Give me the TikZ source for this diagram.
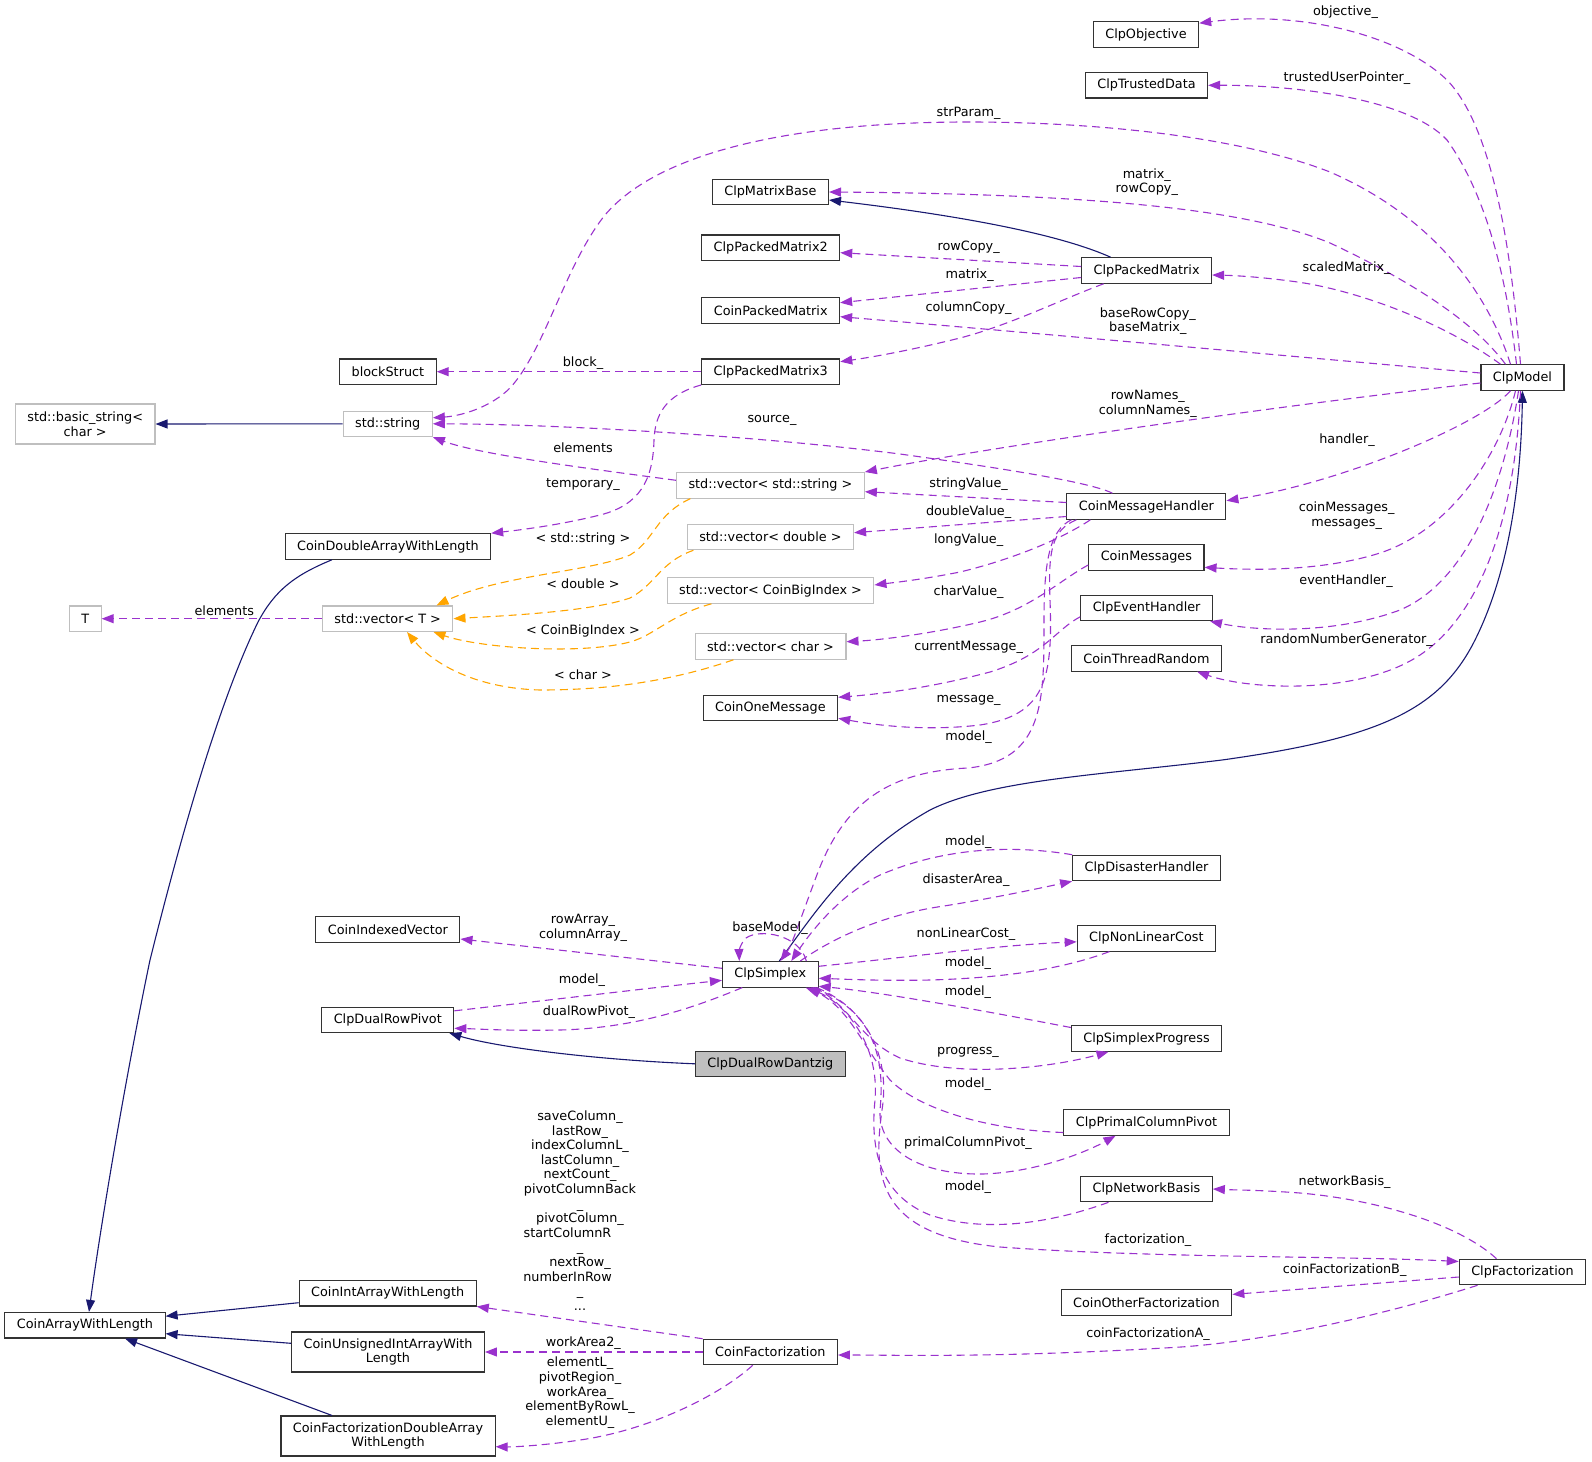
\documentclass[tikz,border=0pt]{standalone}
\usepackage{fontspec}
\setmainfont{DejaVu Sans}
\usetikzlibrary{arrows.meta, calc}
\definecolor{dorchid}{RGB}{154, 50,205}
\definecolor{mnavy}  {RGB}{ 25, 25,112}
\definecolor{vorng}  {RGB}{255,165,  0}
\definecolor{bgrey}  {RGB}{191,191,191}
\tikzset{
  % documented class box
  CB/.style={rectangle,draw=black!80,fill=white,line width=1.1pt,
             font=\fontsize{12.8}{14.6}\selectfont,align=center,
             inner xsep=12pt,inner ysep=2pt,minimum height=25.5pt},
  % undocumented class box
  XB/.style={CB,draw=bgrey},
  % the class of this graph
  HB/.style={CB,fill=bgrey},
  % edge label
  Lbl/.style={font=\fontsize{12.8}{14.6}\selectfont,align=center,inner sep=0pt},
  % arrows
  UArr/.style={-{Triangle[length=12pt,width=9pt]},line width=1.1pt,
               color=dorchid,dash pattern=on 8pt off 5pt},
  IArr/.style={-{Triangle[length=12pt,width=9pt]},line width=1.1pt,color=mnavy},
  TArr/.style={-{Triangle[length=12pt,width=9pt]},line width=1.1pt,
               color=vorng,dash pattern=on 8pt off 5pt},
}
\begin{document}
\begin{tikzpicture}[x=1pt,y=-1pt]
  \useasboundingbox (0,0) rectangle (1592,1461);
  % --- class nodes
  \node[CB] (obj)    at (1146,34.5)    {ClpObjective};
  \node[CB] (trust)  at (1146.5,85.3)  {ClpTrustedData};
  \node[CB] (mbase)  at (770.4,192)    {ClpMatrixBase};
  \node[CB] (pm2)    at (770.7,247.7)  {ClpPackedMatrix2};
  \node[CB] (cpm)    at (770.7,310.3)  {CoinPackedMatrix};
  \node[CB] (pm3)    at (770.7,371.7)  {ClpPackedMatrix3};
  \node[CB] (pm)     at (1146.6,270.5) {ClpPackedMatrix};
  \node[CB] (model)  at (1522.5,377.5) {ClpModel};
  \node[CB] (block)  at (387.9,371.7)  {blockStruct};
  \node[XB] (str)    at (387.7,423.8)  {std::string};
  \node[XB,minimum height=40pt] (bstr) at (85.2,424) {std::basic\_string<\\char >};
  \node[CB] (cdawl)  at (387.9,546.5)  {CoinDoubleArrayWithLength};
  \node[XB] (T)      at (85.2,618.7)   {T};
  \node[XB] (vecT)   at (387.7,618.7)  {std::vector< T >};
  \node[CB] (civ)    at (387.9,929.3)  {CoinIndexedVector};
  \node[XB] (vstr)   at (770.4,485.3)  {std::vector< std::string >};
  \node[XB] (vdbl)   at (770.4,537)    {std::vector< double >};
  \node[XB] (vbig)   at (770.5,590.5)  {std::vector< CoinBigIndex >};
  \node[XB] (vchr)   at (770.5,646.5)  {std::vector< char >};
  \node[CB] (onemsg) at (770.4,707.8)  {CoinOneMessage};
  \node[CB] (cmh)    at (1146.4,506.5) {CoinMessageHandler};
  \node[CB] (cmsg)   at (1146.4,557.3) {CoinMessages};
  \node[CB] (evt)    at (1146.6,607.8) {ClpEventHandler};
  \node[CB] (rnd)    at (1146.4,658.3) {CoinThreadRandom};
  \node[CB] (dis)    at (1146.6,868)   {ClpDisasterHandler};
  \node[CB] (nlc)    at (1146.4,938.3) {ClpNonLinearCost};
  \node[CB] (simplex) at (770.3,974.3) {ClpSimplex};
  \node[CB] (drp)    at (387.8,1019.8) {ClpDualRowPivot};
  \node[HB] (dantzig) at (770.3,1063.8) {ClpDualRowDantzig};
  \node[CB] (prog)   at (1146.5,1038.5) {ClpSimplexProgress};
  \node[CB] (pcp)    at (1146.5,1122.5) {ClpPrimalColumnPivot};
  \node[CB] (nb)     at (1146.5,1189)  {ClpNetworkBasis};
  \node[CB] (fact)   at (1522.5,1272)  {ClpFactorization};
  \node[CB] (cof)    at (1146.5,1302.4) {CoinOtherFactorization};
  \node[CB] (cf)     at (770.3,1352)   {CoinFactorization};
  \node[CB] (cawl)   at (85,1325.2)    {CoinArrayWithLength};
  \node[CB] (ciawl)  at (387.7,1293.2) {CoinIntArrayWithLength};
  \node[CB,minimum height=40pt] (cuiawl) at (388,1352) {CoinUnsignedIntArrayWith\\Length};
  \node[CB,minimum height=40pt] (cfdawl) at (388,1436) {CoinFactorizationDoubleArray\\WithLength};

  % --- inheritance
  \draw[IArr] (str.west) -- (bstr.east);
  \draw[IArr] ([xshift=-36pt]pm.north) .. controls (1050,230) and (930,212) .. ([yshift=-8pt]mbase.east);
  \draw[IArr] ([xshift=9pt]simplex.north) .. controls (810,920) and (850,855) .. (930,810)
              .. controls (990,780) and (1100,775) .. (1222,760)
              .. controls (1380,738) and (1440,710) .. (1475,640)
              .. controls (1510,570) and (1521,480) .. (model.south);
  \draw[IArr] (dantzig.west) .. controls (600,1060) and (500,1048) .. ([xshift=-5pt]drp.south east);
  \draw[IArr] ([xshift=-56pt]cdawl.south) .. controls (295,575) and (275,590) .. (258,622)
              .. controls (215,710) and (175,860) .. (150,960)
              .. controls (125,1080) and (100,1230) .. ([xshift=4pt]cawl.north);
  \draw[IArr] ([yshift=-9.5pt]ciawl.west) -- ([yshift=9pt]cawl.east);
  \draw[IArr] ([yshift=8.7pt]cuiawl.west) -- ([yshift=-8.5pt]cawl.east);
  \draw[IArr] ([xshift=-56pt]cfdawl.north) -- ([xshift=40pt]cawl.south);

  % --- ClpModel members
  \draw[UArr] ([xshift=-2pt]model.north) .. controls (1512,260) and (1495,130) .. (1447,80)
              .. controls (1400,35) and (1300,10) .. (obj.12);
  \node[Lbl] (lobj) at (1345.5,12) {objective\_};
  \draw[UArr] ([xshift=-6pt]model.north) .. controls (1508,290) and (1490,200) .. (1447,140)
              .. controls (1410,100) and (1300,85) .. (trust.east);
  \node[Lbl] (ltrust) at (1347,78) {trustedUserPointer\_};
  \draw[UArr] ([xshift=-12pt]model.north) .. controls (1490,300) and (1440,220) .. (1330,172)
              .. controls (1240,137) and (1100,122) .. (968,122)
              .. controls (800,122) and (660,150) .. (605,215)
              .. controls (565,265) and (545,350) .. (510,388)
              .. controls (490,408) and (460,416) .. ([yshift=6pt]str.east);
  \node[Lbl] (lstrp) at (968.6,113) {strParam\_};
  \draw[UArr] ([xshift=-17pt]model.north) .. controls (1480,330) and (1430,290) .. (1330,243)
              .. controls (1250,210) and (1100,194) .. (mbase.east);
  \node[Lbl] (lmat) at (1146.8,182) {matrix\_\\rowCopy\_};
  \draw[UArr] ([xshift=-22pt]model.north) .. controls (1440,320) and (1350,288) .. (1290,281)
              .. controls (1260,277) and (1235,275.5) .. ([yshift=-4.5pt]pm.east);
  \node[Lbl] (lscal) at (1346.6,268) {scaledMatrix\_};
  \draw[UArr] ([yshift=4.5pt]model.west) .. controls (1300,357) and (1000,330) .. ([yshift=-6.4pt]cpm.east);
  \node[Lbl] (lbase) at (1147.8,321) {baseRowCopy\_\\baseMatrix\_};
  \draw[UArr] ([yshift=-5.5pt]model.west) .. controls (1300,403) and (1000,445) .. (vstr.north east);
  \node[Lbl] (lnames) at (1147.8,404) {rowNames\_\\columnNames\_};
  \draw[UArr] ([xshift=-12pt]model.south) .. controls (1480,425) and (1340,483) .. ([yshift=5.8pt]cmh.east);
  \node[Lbl] (lhand) at (1347,440) {handler\_};
  \draw[UArr] ([xshift=-7pt]model.south) .. controls (1500,455) and (1450,530) .. (1380,553)
              .. controls (1320,572) and (1250,570) .. ([yshift=-10pt]cmsg.east);
  \node[Lbl] (lmsgs) at (1346.6,515.6) {coinMessages\_\\messages\_};
  \draw[UArr] ([xshift=-4pt]model.south) .. controls (1505,480) and (1470,580) .. (1400,610)
              .. controls (1330,636) and (1250,630) .. ([xshift=-3pt]evt.south east);
  \node[Lbl] (levt) at (1346,580.7) {eventHandler\_};
  \draw[UArr] ([xshift=-2pt]model.south) .. controls (1515,520) and (1480,615) .. (1420,655)
              .. controls (1360,695) and (1250,690) .. ([xshift=50.6pt]rnd.south);
  \node[Lbl] (lrnd) at (1346.6,640) {randomNumberGenerator\_};

  % --- matrices
  \draw[UArr] ([yshift=4pt]pm.west) -- ([yshift=-5pt]pm2.east);
  \node[Lbl] (lrc) at (968.6,247) {rowCopy\_};
  \draw[UArr] ([yshift=-7pt]pm.west) -- ([yshift=7.6pt]cpm.east);
  \node[Lbl] (lm) at (969.6,275) {matrix\_};
  \draw[UArr] ([xshift=-43pt]pm.south) .. controls (1060,300) and (1010,325) .. (960,338)
              .. controls (920,348) and (880,356) .. ([yshift=10pt]pm3.east);
  \node[Lbl] (lcc) at (968.6,308) {columnCopy\_};
  \draw[UArr] (pm3.west) -- (block.east);
  \node[Lbl] (lblk) at (583,363) {block\_};
  \draw[UArr] (pm3.south west) .. controls (665,395) and (655,415) .. (654,440)
              .. controls (653,480) and (640,505) .. (600,515)
              .. controls (560,525) and (520,530) .. (cdawl.north east);
  \node[Lbl] (ltmp) at (583,484.3) {temporary\_};
  \draw[UArr] ([yshift=5pt]vstr.west) .. controls (600,470) and (480,455) .. (str.south east);
  \node[Lbl] (lel1) at (583,448) {elements};

  % --- message handler
  \draw[UArr] ([xshift=-34pt]cmh.north) .. controls (1090,482) and (1000,468) .. (900,454)
              .. controls (750,435) and (550,424) .. (str.east);
  \node[Lbl] (lsrc) at (772,420.7) {source\_};
  \draw[UArr] ([yshift=4pt]cmh.west) -- ([yshift=-6.4pt]vstr.east);
  \node[Lbl] (lsv) at (968.6,484) {stringValue\_};
  \draw[UArr] ([yshift=-10pt]cmh.west) -- ([yshift=4.3pt]vdbl.east);
  \node[Lbl] (ldv) at (968.6,511.7) {doubleValue\_};
  \draw[UArr] ([xshift=-56pt]cmh.south) .. controls (1060,540) and (1010,560) .. (960,572)
              .. controls (920,580) and (890,583) .. ([yshift=5.5pt]vbig.east);
  \node[Lbl] (llv) at (968.6,540) {longValue\_};
  \draw[UArr] ([yshift=-7.7pt]cmsg.west) .. controls (1060,580) and (1030,610) .. (980,622)
              .. controls (930,634) and (880,640) .. ([yshift=4.8pt]vchr.east);
  \node[Lbl] (lcv) at (968.6,592.3) {charValue\_};
  \draw[UArr] ([yshift=-9pt]evt.west) .. controls (1055,630) and (1045,655) .. (990,672)
              .. controls (930,688) and (880,694) .. ([yshift=10.5pt]onemsg.east);
  \node[Lbl] (lcm) at (968.6,647.7) {currentMessage\_};
  \draw[UArr] ([xshift=10pt]cmh.south west) .. controls (1052,530) and (1048,550) .. (1050,600)
              .. controls (1053,680) and (1045,715) .. (980,725)
              .. controls (920,732) and (870,724) .. ([yshift=-10.5pt]onemsg.east);
  \node[Lbl] (lmsg) at (968.6,700.7) {message\_};
  \draw[UArr] ([xshift=5pt]cmh.south west) .. controls (1050,530) and (1044,560) .. (1044,620)
              .. controls (1044,700) and (1045,760) .. (968,768)
              .. controls (880,772) and (840,810) .. (815,880)
              .. controls (800,920) and (792,945) .. ([xshift=10pt]simplex.north);
  \node[Lbl] (lmod1) at (968.6,736.7) {model\_};

  % --- vector templates
  \draw[TArr] ([xshift=-80pt]vstr.south) .. controls (655,515) and (655,540) .. (630,555)
              .. controls (590,572) and (500,575) .. ([xshift=-17pt]vecT.north east);
  \node[Lbl] (ltstr) at (583,539) {< std::string >};
  \draw[TArr] ([xshift=-77pt]vdbl.south) .. controls (660,562) and (655,585) .. (630,598)
              .. controls (590,612) and (500,616) .. (vecT.east);
  \node[Lbl] (ltdbl) at (583,584) {< double >};
  \draw[TArr] ([xshift=-59pt]vbig.south) .. controls (670,615) and (655,635) .. (630,642)
              .. controls (580,655) and (480,648) .. ([xshift=-20pt]vecT.south east);
  \node[Lbl] (ltbig) at (583,630.5) {< CoinBigIndex >};
  \draw[TArr] ([xshift=-37pt]vchr.south) .. controls (680,678) and (620,690) .. (540,690)
              .. controls (470,688) and (430,660) .. ([xshift=19.3pt]vecT.south);
  \node[Lbl] (ltchr) at (583,675) {< char >};
  \draw[UArr] (vecT.west) -- (T.east);
  \node[Lbl] (lel2) at (224.3,610.7) {elements};

  % --- ClpSimplex members
  \draw[UArr] ([xshift=36pt]simplex.north) .. controls (800,935) and (760,928) .. (746,938)
              .. controls (740,944) and (739,952) .. ([xshift=-31pt]simplex.north);
  \node[Lbl] (lbm) at (770,928.3) {baseModel\_};
  \draw[UArr] (dis.north west) .. controls (1020,846) and (950,845) .. (880,875)
              .. controls (840,895) and (812,930) .. ([xshift=21pt]simplex.north);
  \node[Lbl] (lmod2) at (968.3,842.5) {model\_};
  \draw[UArr] ([xshift=30pt]simplex.north) .. controls (830,940) and (880,915) .. (944,906)
              .. controls (1000,897) and (1045,887) .. (dis.south west);
  \node[Lbl] (lda) at (966,879.7) {disasterArea\_};
  \draw[UArr] ([yshift=8pt]simplex.east) .. controls (900,958) and (1000,945) .. ([yshift=-3.5pt]nlc.west);
  \node[Lbl] (lnlc) at (966,934.5) {nonLinearCost\_};
  \draw[UArr] ([xshift=-37pt]nlc.south) .. controls (1060,970) and (1000,978) .. (930,980)
              .. controls (880,981) and (840,979) .. ([yshift=-4pt]simplex.east);
  \node[Lbl] (lmod3) at (968,963) {model\_};
  \draw[UArr] ([yshift=11pt]prog.west) .. controls (980,1010) and (880,992) .. ([yshift=-12pt]simplex.east);
  \node[Lbl] (lmod4) at (968,991.7) {model\_};
  \draw[UArr] ([xshift=-4pt]simplex.south east) .. controls (850,1005) and (860,1040) .. (900,1058)
              .. controls (960,1078) and (1050,1068) .. ([xshift=-38pt]prog.south);
  \node[Lbl] (lprog) at (968,1052) {progress\_};
  \draw[UArr] ([yshift=-10pt]pcp.west) .. controls (990,1130) and (920,1110) .. (890,1080)
              .. controls (862,1045) and (850,1010) .. ([xshift=-10pt]simplex.south east);
  \node[Lbl] (lmod5) at (968,1083.7) {model\_};
  \draw[UArr] ([xshift=-6pt]simplex.south east) .. controls (875,1010) and (885,1060) .. (880,1110)
              .. controls (878,1150) and (920,1175) .. (983,1174)
              .. controls (1040,1172) and (1090,1150) .. ([xshift=-31pt]pcp.south);
  \node[Lbl] (lpcp) at (968,1143) {primalColumnPivot\_};
  \draw[UArr] ([xshift=-38pt]nb.south) .. controls (1060,1220) and (990,1235) .. (930,1215)
              .. controls (880,1195) and (870,1150) .. (875,1100)
              .. controls (880,1040) and (840,1000) .. ([xshift=-13pt]simplex.south east);
  \node[Lbl] (lmod6) at (968,1186.7) {model\_};
  \draw[UArr] ([xshift=-2pt]simplex.south east) .. controls (870,1010) and (890,1060) .. (882,1110)
              .. controls (872,1180) and (880,1235) .. (1000,1247)
              .. controls (1150,1258) and (1350,1256) .. ([yshift=10.5pt]fact.west);
  \node[Lbl] (lfact) at (1148,1240) {factorization\_};
  \draw[UArr] ([yshift=6pt]simplex.west) -- ([yshift=-9.7pt]civ.east);
  \node[Lbl] (lrow) at (583,928) {rowArray\_\\columnArray\_};
  \draw[UArr] ([yshift=9pt]drp.east) .. controls (550,1000) and (650,988) .. ([yshift=-6pt]simplex.west);
  \node[Lbl] (lmod7) at (582,980) {model\_};
  \draw[UArr] ([xshift=-28pt]simplex.south) .. controls (700,1005) and (640,1028) .. (560,1030)
              .. controls (510,1031) and (480,1029) .. ([yshift=-8.5pt]drp.east);
  \node[Lbl] (ldrp) at (589,1012) {dualRowPivot\_};

  % --- factorization
  \draw[UArr] ([xshift=-26pt]fact.north) .. controls (1460,1225) and (1380,1200) .. (1300,1193)
              .. controls (1260,1190) and (1235,1190) .. (nb.east);
  \node[Lbl] (lnb) at (1344.6,1182.6) {networkBasis\_};
  \draw[UArr] ([yshift=-5pt]fact.west) -- ([yshift=8pt]cof.east);
  \node[Lbl] (lcfb) at (1344.6,1270.5) {coinFactorizationB\_};
  \draw[UArr] ([xshift=-45pt]fact.south) .. controls (1400,1310) and (1280,1340) .. (1181,1347)
              .. controls (1000,1358) and (900,1355) .. ([yshift=-3pt]cf.east);
  \node[Lbl] (lcfa) at (1148,1334.3) {coinFactorizationA\_};
  \draw[UArr] (cf.north west) -- (ciawl.south east);
  \node[Lbl] (lint) at (580,1210.5)
       {saveColumn\_\\lastRow\_\\indexColumnL\_\\lastColumn\_\\nextCount\_\\
        pivotColumnBack\\\_\\pivotColumn\_\\startColumnR\makebox[25pt]{}\\\_\\
        nextRow\_\\numberInRow\makebox[25pt]{}\\\_\\...};
  \draw[UArr] (cf.west) -- (cuiawl.east);
  \node[Lbl] (lwa2) at (583.3,1343.3) {workArea2\_};
  \draw[UArr] ([xshift=-17.6pt]cf.south) .. controls (720,1395) and (650,1430) .. (580,1440)
              .. controls (540,1446) and (510,1447) .. ([yshift=-10.7pt]cfdawl.east);
  \node[Lbl] (ldbl) at (580,1392.8)
       {elementL\_\\pivotRegion\_\\workArea\_\\elementByRowL\_\\elementU\_};
\end{tikzpicture}
\end{document}
